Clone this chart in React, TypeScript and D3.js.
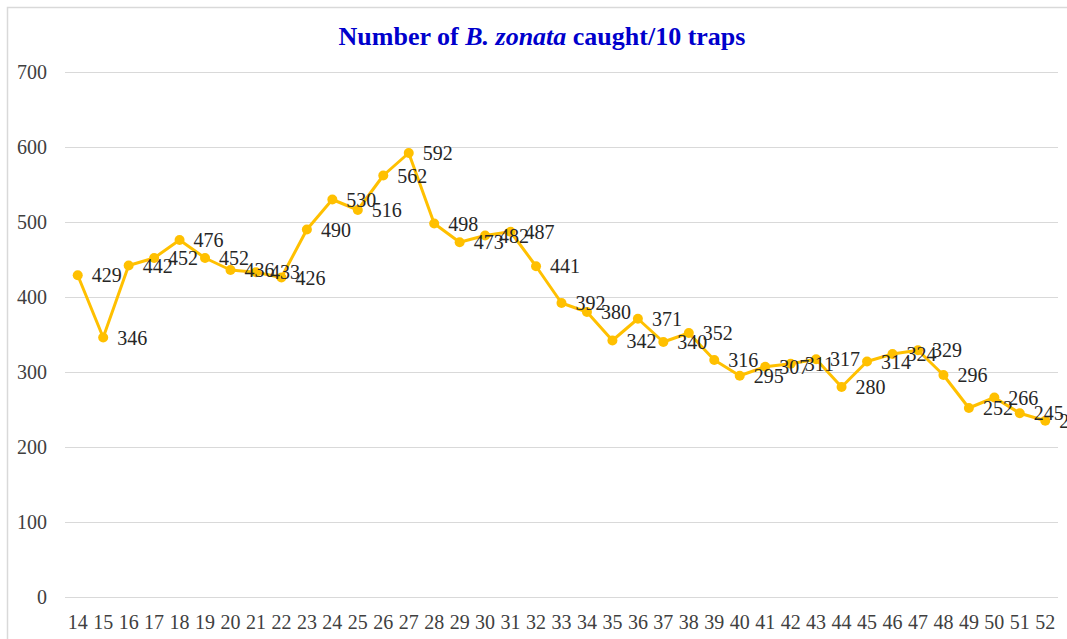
import React, { useRef, useEffect } from "react";
import * as d3 from "d3";

const weeks = [
  "14", "15", "16", "17", "18", "19", "20", "21", "22", "23", "24", "25", "26",
  "27", "28", "29", "30", "31", "32", "33", "34", "35", "36", "37", "38", "39",
  "40", "41", "42", "43", "44", "45", "46", "47", "48", "49", "50", "51", "52",
];
const caught = [
  429, 346, 442, 452, 476, 452, 436, 433, 426, 490, 530, 516, 562,
  592, 498, 473, 482, 487, 441, 392, 380, 342, 371, 340, 352, 316,
  295, 307, 311, 317, 280, 314, 324, 329, 296, 252, 266, 245, 235,
];
const yTicks = [0, 100, 200, 300, 400, 500, 600, 700];

export default function App() {
  const ref = useRef<SVGSVGElement>(null);

  useEffect(() => {
    const width = 1067;
    const height = 639;
    const svg = d3.select(ref.current);
    svg.selectAll("*").remove();
    svg.attr("width", width).attr("height", height);

    const font = "Liberation Serif, Times New Roman, serif";

    // chart frame (runs past the right/bottom edge like the source)
    svg
      .append("rect")
      .attr("x", 7.5)
      .attr("y", 7.5)
      .attr("width", width + 20)
      .attr("height", height + 20)
      .attr("fill", "#fff")
      .attr("stroke", "#d9d9d9")
      .attr("stroke-width", 1.5);

    svg
      .append("text")
      .attr("x", 542)
      .attr("y", 45)
      .attr("text-anchor", "middle")
      .attr("font-family", font)
      .attr("font-size", 26)
      .attr("font-weight", "bold")
      .attr("fill", "#0000cc")
      .call((t) => {
        t.append("tspan").text("Number of ");
        t.append("tspan").attr("font-style", "italic").text("B. zonata");
        t.append("tspan").text(" caught/10 traps");
      });

    const x = d3.scaleBand().domain(weeks).range([65, 1058]);
    const y = d3.scaleLinear().domain([0, 700]).range([597, 72]);

    svg
      .append("g")
      .selectAll("line")
      .data(yTicks)
      .join("line")
      .attr("x1", 65)
      .attr("x2", 1058)
      .attr("y1", (d) => Math.round(y(d)) + 0.5)
      .attr("y2", (d) => Math.round(y(d)) + 0.5)
      .attr("stroke", "#d9d9d9")
      .attr("stroke-width", 1);

    svg
      .append("g")
      .selectAll("text")
      .data(yTicks)
      .join("text")
      .attr("x", 47)
      .attr("y", (d) => y(d))
      .attr("dy", "0.35em")
      .attr("text-anchor", "end")
      .attr("font-family", font)
      .attr("font-size", 20)
      .attr("fill", "#404040")
      .text((d) => d);

    svg
      .append("g")
      .selectAll("text")
      .data(weeks)
      .join("text")
      .attr("x", (d) => x(d)! + x.bandwidth() / 2)
      .attr("y", 622)
      .attr("dy", "0.35em")
      .attr("text-anchor", "middle")
      .attr("font-family", font)
      .attr("font-size", 20)
      .attr("fill", "#404040")
      .text((d) => d);

    const pts = weeks.map((w, i) => ({ w, v: caught[i] }));
    const cx = (d: { w: string }) => x(d.w)! + x.bandwidth() / 2;

    svg
      .append("path")
      .datum(pts)
      .attr("fill", "none")
      .attr("stroke", "#ffc000")
      .attr("stroke-width", 3)
      .attr("stroke-linejoin", "round")
      .attr(
        "d",
        d3
          .line<{ w: string; v: number }>()
          .x(cx)
          .y((d) => y(d.v))
      );

    svg
      .append("g")
      .selectAll("circle")
      .data(pts)
      .join("circle")
      .attr("cx", cx)
      .attr("cy", (d) => y(d.v))
      .attr("r", 5)
      .attr("fill", "#ffc000");

    svg
      .append("g")
      .selectAll("text")
      .data(pts)
      .join("text")
      .attr("x", (d) => cx(d) + 14)
      .attr("y", (d) => y(d.v))
      .attr("dy", "0.35em")
      .attr("font-family", font)
      .attr("font-size", 20)
      .attr("fill", "#262626")
      .text((d) => d.v);
  }, []);

  return (
    <div style={{ position: "absolute", left: 0, top: 0 }}>
      <svg ref={ref} style={{ display: "block" }} />
    </div>
  );
}
